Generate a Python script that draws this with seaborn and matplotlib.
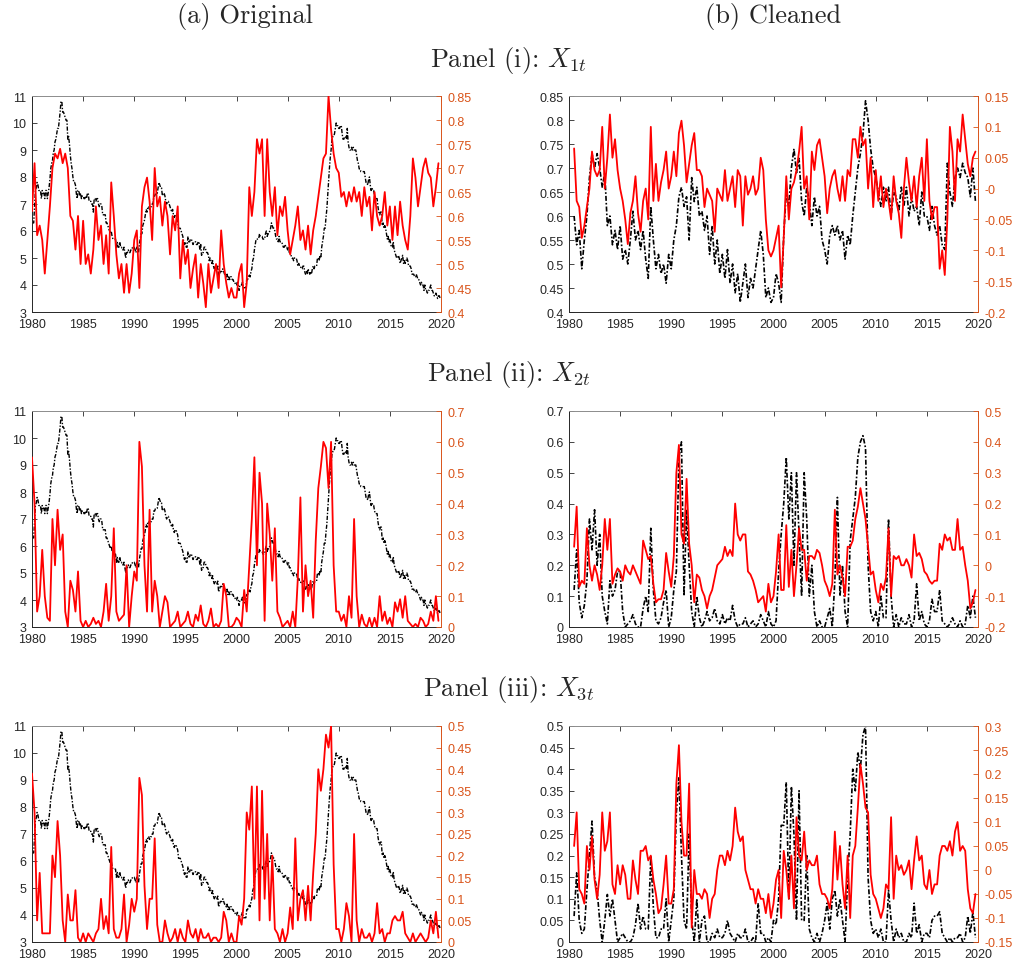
import numpy as np
import matplotlib
matplotlib.use('Agg')
import matplotlib.pyplot as plt
import seaborn as sns
from matplotlib.ticker import FuncFormatter

# unemployment rate, monthly 1980-2019 (black line, column a)
unrate = [
    6.3, 6.3, 6.3, 6.9, 7.5, 7.6, 7.8, 7.7, 7.5, 7.5, 7.5, 7.2,
    7.5, 7.4, 7.4, 7.2, 7.5, 7.5, 7.2, 7.4, 7.6, 7.9, 8.3, 8.5,
    8.6, 8.9, 9.0, 9.3, 9.4, 9.6, 9.8, 9.8, 10.1, 10.4, 10.8, 10.8,
    10.4, 10.4, 10.3, 10.2, 10.1, 10.1, 9.4, 9.5, 9.2, 8.8, 8.5, 8.3,
    8.0, 7.8, 7.8, 7.7, 7.4, 7.2, 7.5, 7.5, 7.3, 7.4, 7.2, 7.3,
    7.3, 7.2, 7.2, 7.3, 7.2, 7.4, 7.4, 7.1, 7.1, 7.1, 7.0, 7.0,
    6.7, 7.2, 7.2, 7.1, 7.2, 7.2, 7.0, 6.9, 7.0, 7.0, 6.9, 6.6,
    6.6, 6.6, 6.6, 6.3, 6.3, 6.2, 6.1, 6.0, 5.9, 6.0, 5.8, 5.7,
    5.7, 5.7, 5.7, 5.4, 5.6, 5.4, 5.4, 5.6, 5.4, 5.4, 5.3, 5.3,
    5.4, 5.2, 5.0, 5.2, 5.2, 5.3, 5.2, 5.2, 5.3, 5.3, 5.4, 5.4,
    5.4, 5.3, 5.2, 5.4, 5.4, 5.2, 5.5, 5.7, 5.9, 5.9, 6.2, 6.3,
    6.4, 6.6, 6.8, 6.7, 6.9, 6.9, 6.8, 6.9, 6.9, 7.0, 7.0, 7.3,
    7.3, 7.4, 7.4, 7.4, 7.6, 7.8, 7.7, 7.6, 7.6, 7.3, 7.4, 7.4,
    7.3, 7.1, 7.0, 7.1, 7.1, 7.0, 6.9, 6.8, 6.7, 6.8, 6.6, 6.5,
    6.6, 6.6, 6.5, 6.4, 6.1, 6.1, 6.1, 6.0, 5.9, 5.8, 5.6, 5.5,
    5.6, 5.4, 5.4, 5.8, 5.6, 5.6, 5.7, 5.7, 5.6, 5.5, 5.6, 5.6,
    5.6, 5.5, 5.5, 5.6, 5.6, 5.3, 5.5, 5.1, 5.2, 5.2, 5.4, 5.4,
    5.3, 5.2, 5.2, 5.1, 4.9, 5.0, 4.9, 4.8, 4.9, 4.7, 4.6, 4.7,
    4.6, 4.6, 4.7, 4.3, 4.4, 4.5, 4.5, 4.5, 4.6, 4.5, 4.4, 4.4,
    4.3, 4.4, 4.2, 4.3, 4.2, 4.3, 4.3, 4.2, 4.2, 4.1, 4.1, 4.0,
    4.0, 4.1, 4.0, 3.8, 4.0, 4.0, 4.0, 4.1, 3.9, 3.9, 3.9, 3.9,
    4.2, 4.2, 4.3, 4.4, 4.3, 4.5, 4.6, 4.9, 5.0, 5.3, 5.5, 5.7,
    5.7, 5.7, 5.7, 5.9, 5.8, 5.8, 5.8, 5.7, 5.7, 5.7, 5.9, 6.0,
    5.8, 5.9, 5.9, 6.0, 6.1, 6.3, 6.2, 6.1, 6.1, 6.0, 5.8, 5.7,
    5.7, 5.6, 5.8, 5.6, 5.6, 5.6, 5.5, 5.4, 5.4, 5.5, 5.4, 5.4,
    5.3, 5.4, 5.2, 5.2, 5.1, 5.0, 5.0, 4.9, 5.0, 5.0, 5.0, 4.9,
    4.7, 4.8, 4.7, 4.7, 4.6, 4.6, 4.7, 4.7, 4.5, 4.4, 4.5, 4.4,
    4.6, 4.5, 4.4, 4.5, 4.4, 4.6, 4.7, 4.6, 4.7, 4.7, 4.7, 5.0,
    5.0, 4.9, 5.1, 5.0, 5.4, 5.6, 5.8, 6.1, 6.1, 6.5, 6.8, 7.3,
    7.8, 8.3, 8.7, 9.0, 9.4, 9.5, 9.5, 9.6, 9.8, 10.0, 9.9, 9.9,
    9.8, 9.8, 9.9, 9.9, 9.6, 9.4, 9.4, 9.5, 9.5, 9.4, 9.8, 9.3,
    9.1, 9.0, 9.0, 9.1, 9.0, 9.1, 9.0, 9.0, 9.0, 8.8, 8.6, 8.5,
    8.3, 8.3, 8.2, 8.2, 8.2, 8.2, 8.2, 8.0, 7.8, 7.8, 7.7, 7.9,
    8.0, 7.7, 7.5, 7.6, 7.5, 7.5, 7.3, 7.2, 7.2, 7.2, 6.9, 6.7,
    6.6, 6.7, 6.7, 6.2, 6.3, 6.1, 6.2, 6.1, 5.9, 5.7, 5.8, 5.6,
    5.7, 5.5, 5.4, 5.4, 5.6, 5.3, 5.2, 5.1, 5.0, 5.0, 5.1, 5.0,
    4.8, 4.9, 5.0, 5.1, 4.8, 4.9, 4.8, 4.9, 5.0, 4.9, 4.7, 4.7,
    4.7, 4.6, 4.4, 4.4, 4.4, 4.3, 4.3, 4.4, 4.3, 4.2, 4.2, 4.1,
    4.0, 4.1, 4.0, 4.0, 3.8, 4.0, 3.8, 3.8, 3.7, 3.8, 3.8, 3.9,
    4.0, 3.8, 3.8, 3.7, 3.6, 3.6, 3.7, 3.6, 3.5, 3.6, 3.6, 3.5,
]

# quarterly series, column (a), 1980Q1-2019Q4
orig_x1 = [
    0.61, 0.71, 0.56, 0.58, 0.55, 0.48, 0.55, 0.62, 0.70, 0.73, 0.72, 0.74,
    0.71, 0.73, 0.70, 0.60, 0.59, 0.53, 0.60, 0.50, 0.59, 0.50, 0.52, 0.48,
    0.53, 0.62, 0.55, 0.58, 0.50, 0.56, 0.48, 0.67, 0.60, 0.52, 0.47, 0.50,
    0.44, 0.50, 0.44, 0.48, 0.55, 0.57, 0.45, 0.62, 0.66, 0.68, 0.63, 0.55,
    0.70, 0.62, 0.64, 0.58, 0.63, 0.60, 0.52, 0.60, 0.57, 0.62, 0.47, 0.55,
    0.50, 0.53, 0.45, 0.49, 0.52, 0.43, 0.50, 0.46, 0.41, 0.50, 0.44, 0.47,
    0.50, 0.45, 0.57, 0.50, 0.46, 0.43, 0.45, 0.43, 0.43, 0.48, 0.50, 0.41,
    0.46, 0.66, 0.60, 0.65, 0.76, 0.73, 0.76, 0.60, 0.76, 0.65, 0.60, 0.66,
    0.56, 0.62, 0.60, 0.64, 0.57, 0.52, 0.55, 0.58, 0.62, 0.55, 0.57, 0.53,
    0.58, 0.52, 0.57, 0.60, 0.64, 0.68, 0.72, 0.73, 0.85, 0.78, 0.73, 0.70,
    0.69, 0.64, 0.65, 0.62, 0.65, 0.63, 0.66, 0.63, 0.65, 0.60, 0.66, 0.62,
    0.64, 0.57, 0.65, 0.60, 0.58, 0.60, 0.65, 0.58, 0.62, 0.55, 0.62, 0.56,
    0.63, 0.58, 0.55, 0.53, 0.60, 0.72, 0.68, 0.62, 0.66, 0.70, 0.72, 0.69,
    0.68, 0.62, 0.66, 0.71,
]
orig_x2 = [
    0.55, 0.40, 0.05, 0.10, 0.25, 0.10, 0.03, 0.02, 0.35, 0.20, 0.38, 0.25,
    0.30, 0.05, 0.00, 0.15, 0.12, 0.05, 0.18, 0.02, 0.00, 0.02, 0.00, 0.01,
    0.03, 0.01, 0.02, 0.00, 0.05, 0.14, 0.02, 0.10, 0.32, 0.05, 0.02, 0.03,
    0.04, 0.20, 0.00, 0.10, 0.18, 0.15, 0.60, 0.52, 0.20, 0.05, 0.38, 0.05,
    0.15, 0.10, 0.00, 0.05, 0.10, 0.08, 0.00, 0.01, 0.02, 0.05, 0.00, 0.01,
    0.02, 0.05, 0.01, 0.00, 0.04, 0.02, 0.07, 0.01, 0.00, 0.02, 0.06, 0.00,
    0.01, 0.00, 0.02, 0.14, 0.10, 0.00, 0.00, 0.01, 0.03, 0.02, 0.00, 0.12,
    0.05, 0.20, 0.35, 0.55, 0.20, 0.50, 0.40, 0.02, 0.40, 0.30, 0.15, 0.32,
    0.05, 0.03, 0.00, 0.01, 0.02, 0.00, 0.05, 0.00, 0.16, 0.42, 0.05, 0.20,
    0.10, 0.15, 0.03, 0.28, 0.45, 0.52, 0.60, 0.58, 0.45, 0.60, 0.20, 0.05,
    0.05, 0.02, 0.04, 0.00, 0.10, 0.03, 0.35, 0.10, 0.00, 0.04, 0.01, 0.00,
    0.03, 0.00, 0.03, 0.00, 0.10, 0.02, 0.05, 0.01, 0.03, 0.00, 0.08, 0.05,
    0.09, 0.03, 0.10, 0.02, 0.01, 0.00, 0.01, 0.00, 0.03, 0.02, 0.00, 0.01,
    0.05, 0.02, 0.10, 0.02,
]
orig_x3 = [
    0.39, 0.30, 0.05, 0.16, 0.02, 0.02, 0.02, 0.02, 0.20, 0.15, 0.28, 0.20,
    0.05, 0.00, 0.11, 0.05, 0.05, 0.12, 0.01, 0.00, 0.02, 0.00, 0.02, 0.01,
    0.00, 0.02, 0.03, 0.10, 0.03, 0.06, 0.02, 0.22, 0.03, 0.01, 0.01, 0.03,
    0.11, 0.00, 0.04, 0.10, 0.07, 0.10, 0.38, 0.34, 0.13, 0.03, 0.10, 0.10,
    0.24, 0.04, 0.00, 0.00, 0.05, 0.02, 0.00, 0.01, 0.03, 0.00, 0.03, 0.01,
    0.00, 0.05, 0.02, 0.01, 0.03, 0.00, 0.03, 0.01, 0.01, 0.02, 0.00, 0.01,
    0.01, 0.00, 0.01, 0.07, 0.05, 0.00, 0.02, 0.00, 0.00, 0.06, 0.04, 0.10,
    0.30, 0.26, 0.36, 0.10, 0.36, 0.05, 0.35, 0.10, 0.25, 0.05, 0.20, 0.03,
    0.02, 0.00, 0.03, 0.00, 0.02, 0.08, 0.03, 0.24, 0.05, 0.10, 0.12, 0.05,
    0.13, 0.05, 0.16, 0.25, 0.40, 0.35, 0.40, 0.48, 0.45, 0.50, 0.18, 0.03,
    0.03, 0.00, 0.03, 0.09, 0.06, 0.00, 0.25, 0.05, 0.00, 0.03, 0.01, 0.01,
    0.02, 0.00, 0.02, 0.09, 0.02, 0.03, 0.00, 0.02, 0.02, 0.05, 0.06, 0.05,
    0.05, 0.07, 0.02, 0.01, 0.00, 0.02, 0.00, 0.01, 0.02, 0.01, 0.00, 0.01,
    0.05, 0.02, 0.07, 0.01,
]

# quarterly series, column (b), 1980Q3-2019Q4
clean_y = [
    0.60, 0.54,
    0.57, 0.49, 0.55, 0.60, 0.68, 0.73, 0.70, 0.73, 0.70, 0.66, 0.69, 0.58,
    0.60, 0.54, 0.57, 0.53, 0.58, 0.51, 0.53, 0.50, 0.55, 0.61, 0.55, 0.57,
    0.53, 0.57, 0.51, 0.47, 0.62, 0.55, 0.49, 0.52, 0.48, 0.50, 0.46, 0.52,
    0.49, 0.55, 0.58, 0.64, 0.66, 0.62, 0.64, 0.55, 0.68, 0.63, 0.66, 0.60,
    0.61, 0.57, 0.60, 0.52, 0.58, 0.50, 0.55, 0.48, 0.52, 0.47, 0.53, 0.46,
    0.50, 0.44, 0.48, 0.42, 0.46, 0.50, 0.43, 0.47, 0.45, 0.49, 0.53, 0.57,
    0.52, 0.43, 0.45, 0.42, 0.43, 0.48, 0.46, 0.42, 0.56, 0.65, 0.62, 0.70,
    0.74, 0.69, 0.72, 0.63, 0.60, 0.66, 0.63, 0.58, 0.64, 0.60, 0.62, 0.55,
    0.53, 0.50, 0.56, 0.58, 0.56, 0.58, 0.55, 0.57, 0.51, 0.56, 0.54, 0.60,
    0.65, 0.70, 0.73, 0.77, 0.84, 0.80, 0.74, 0.70, 0.68, 0.65, 0.62, 0.66,
    0.63, 0.66, 0.60, 0.65, 0.64, 0.61, 0.66, 0.62, 0.66, 0.60, 0.64, 0.61,
    0.62, 0.58, 0.65, 0.60, 0.60, 0.57, 0.62, 0.58, 0.56, 0.58, 0.54, 0.53,
    0.71, 0.65, 0.62, 0.68, 0.70, 0.68, 0.71, 0.69, 0.68, 0.64, 0.70, 0.63,
]
clean_x1 = [
    0.065, -0.02,
    -0.03, -0.08, -0.06, -0.03, 0.00, 0.06, 0.03, 0.02, 0.03, 0.10, 0.00, 0.05,
    0.12, 0.05, 0.08, 0.03, 0.00, -0.02, -0.05, -0.09, -0.04, -0.02, 0.02, -0.04,
    -0.07, -0.02, 0.00, -0.05, 0.10, -0.02, 0.04, -0.02, 0.01, 0.03, 0.06, 0.00,
    0.02, 0.06, 0.02, 0.09, 0.11, 0.07, 0.01, 0.04, 0.07, 0.09, 0.03, 0.03,
    0.02, -0.03, 0.00, -0.01, -0.02, -0.07, 0.00, -0.01, -0.02, 0.03, -0.02, 0.00,
    0.02, -0.03, 0.03, 0.02, -0.06, 0.02, -0.01, 0.00, 0.02, -0.01, 0.00, 0.05,
    0.03, -0.05, -0.10, -0.11, -0.10, -0.08, -0.06, -0.16, -0.08, 0.02, -0.05, 0.00,
    0.01, 0.03, 0.06, 0.10, 0.00, 0.02, -0.05, 0.06, 0.03, 0.07, 0.08, 0.05,
    0.02, -0.04, 0.00, 0.02, 0.03, 0.00, -0.02, 0.02, -0.02, 0.03, 0.02, 0.08,
    0.08, 0.05, 0.10, 0.07, 0.08, 0.00, 0.05, -0.03, 0.03, -0.02, 0.02, -0.03,
    0.00, -0.02, -0.05, 0.02, -0.02, -0.04, -0.08, 0.00, 0.05, 0.01, -0.02, 0.02,
    -0.03, 0.02, 0.05, -0.02, 0.08, -0.02, -0.05, -0.03, -0.03, -0.13, -0.10, -0.14,
    -0.05, 0.10, 0.06, -0.02, 0.08, 0.06, 0.12, 0.08, 0.04, 0.02, 0.05, 0.06,
]
clean_y2 = [
    0.12, 0.25,
    0.08, 0.03, 0.07, 0.15, 0.35, 0.25, 0.38, 0.20, 0.30, 0.10, 0.05, 0.01,
    0.15, 0.10, 0.12, 0.18, 0.18, 0.05, 0.00, 0.01, 0.02, 0.04, 0.01, 0.00,
    0.00, 0.06, 0.10, 0.05, 0.32, 0.12, 0.02, 0.01, 0.03, 0.08, 0.12, 0.00,
    0.03, 0.12, 0.18, 0.55, 0.60, 0.10, 0.38, 0.20, 0.05, 0.00, 0.10, 0.03,
    0.00, 0.02, 0.05, 0.02, 0.03, 0.06, 0.02, 0.01, 0.04, 0.01, 0.03, 0.02,
    0.07, 0.02, 0.00, 0.01, 0.01, 0.03, 0.00, 0.01, 0.02, 0.00, 0.01, 0.04,
    0.02, 0.00, 0.05, 0.01, 0.00, 0.02, 0.18, 0.30, 0.40, 0.55, 0.35, 0.50,
    0.20, 0.50, 0.30, 0.10, 0.50, 0.35, 0.10, 0.20, 0.05, 0.00, 0.02, 0.00,
    0.00, 0.03, 0.06, 0.00, 0.15, 0.42, 0.10, 0.20, 0.05, 0.00, 0.28, 0.35,
    0.42, 0.55, 0.60, 0.62, 0.58, 0.20, 0.05, 0.02, 0.05, 0.00, 0.10, 0.03,
    0.03, 0.35, 0.10, 0.00, 0.04, 0.00, 0.03, 0.01, 0.01, 0.04, 0.00, 0.02,
    0.14, 0.02, 0.05, 0.01, 0.00, 0.02, 0.09, 0.05, 0.05, 0.12, 0.02, 0.01,
    0.00, 0.01, 0.03, 0.01, 0.00, 0.02, 0.00, 0.01, 0.07, 0.03, 0.10, 0.03,
]
clean_x2 = [
    0.06, 0.19,
    -0.07, -0.05, -0.06, 0.12, 0.00, -0.05, 0.00, -0.03, -0.08, 0.00, 0.15, 0.05,
    0.15, -0.06, -0.03, -0.01, -0.02, -0.05, 0.00, -0.02, -0.03, 0.00, -0.02, -0.04,
    -0.06, 0.08, 0.05, 0.02, 0.03, -0.06, -0.12, -0.11, -0.11, -0.08, 0.04, -0.02,
    -0.07, 0.03, 0.30, 0.39, 0.10, 0.07, 0.28, 0.07, 0.00, -0.12, -0.03, -0.04,
    -0.08, -0.10, -0.14, -0.10, -0.08, -0.04, 0.00, 0.01, 0.02, 0.06, 0.03, 0.05,
    0.03, 0.20, 0.10, 0.08, 0.10, 0.10, -0.02, -0.03, -0.05, -0.08, -0.12, -0.11,
    -0.10, -0.15, -0.06, -0.12, -0.10, -0.02, 0.10, -0.08, -0.08, 0.13, -0.07, 0.05,
    -0.10, 0.00, 0.12, 0.05, 0.05, -0.05, 0.03, 0.03, 0.02, 0.05, 0.04, 0.00,
    -0.05, -0.07, -0.10, -0.06, 0.18, -0.03, 0.00, -0.04, -0.10, 0.06, 0.06, 0.08,
    0.15, 0.19, 0.25, 0.20, 0.15, 0.06, -0.03, -0.02, -0.08, -0.12, -0.06, -0.08,
    -0.04, 0.12, -0.10, 0.03, 0.02, 0.03, 0.00, 0.00, 0.02, 0.00, -0.04, 0.10,
    0.03, 0.04, 0.02, -0.02, -0.03, -0.05, -0.06, -0.05, -0.05, 0.07, 0.05, 0.10,
    0.08, 0.09, 0.05, 0.05, 0.15, 0.05, 0.06, 0.00, -0.05, -0.14, -0.12, -0.08,
]
clean_y3 = [
    0.06, 0.16,
    0.05, 0.02, 0.03, 0.12, 0.20, 0.28, 0.15, 0.12, 0.05, 0.00, 0.05, 0.11,
    0.06, 0.10, 0.05, 0.00, 0.01, 0.02, 0.01, 0.00, 0.00, 0.01, 0.04, 0.09,
    0.03, 0.06, 0.03, 0.03, 0.20, 0.08, 0.01, 0.01, 0.03, 0.03, 0.10, 0.00,
    0.05, 0.10, 0.30, 0.38, 0.20, 0.05, 0.03, 0.25, 0.05, 0.00, 0.10, 0.00,
    0.05, 0.06, 0.00, 0.00, 0.02, 0.01, 0.03, 0.01, 0.01, 0.02, 0.05, 0.02,
    0.01, 0.00, 0.02, 0.01, 0.01, 0.03, 0.00, 0.00, 0.01, 0.00, 0.09, 0.02,
    0.02, 0.00, 0.01, 0.00, 0.05, 0.04, 0.10, 0.27, 0.27, 0.37, 0.10, 0.36,
    0.25, 0.05, 0.35, 0.05, 0.05, 0.20, 0.03, 0.01, 0.00, 0.02, 0.00, 0.02,
    0.05, 0.09, 0.03, 0.10, 0.12, 0.06, 0.10, 0.05, 0.00, 0.15, 0.25, 0.40,
    0.35, 0.44, 0.40, 0.48, 0.50, 0.15, 0.05, 0.02, 0.03, 0.01, 0.03, 0.00,
    0.00, 0.12, 0.05, 0.00, 0.03, 0.01, 0.02, 0.00, 0.00, 0.02, 0.01, 0.09,
    0.02, 0.04, 0.00, 0.02, 0.02, 0.01, 0.05, 0.06, 0.06, 0.07, 0.02, 0.01,
    0.00, 0.01, 0.00, 0.01, 0.01, 0.02, 0.00, 0.01, 0.06, 0.02, 0.07, 0.01,
]
clean_x3 = [
    0.05, 0.12,
    -0.04, -0.05, -0.07, 0.05, 0.00, 0.07, -0.02, -0.06, -0.01, 0.12, 0.04, 0.06,
    0.12, -0.03, -0.05, 0.01, -0.03, 0.01, -0.01, -0.06, -0.06, 0.02, -0.02, -0.05,
    0.04, 0.04, 0.05, 0.02, 0.03, -0.02, -0.05, -0.09, -0.08, -0.03, 0.03, -0.07,
    -0.07, -0.04, 0.18, 0.26, 0.10, 0.03, 0.03, 0.18, -0.12, 0.00, -0.05, -0.05,
    -0.06, -0.04, -0.05, -0.10, -0.06, -0.05, 0.00, 0.03, 0.03, 0.01, 0.04, 0.02,
    0.05, 0.13, 0.08, 0.06, 0.07, 0.00, -0.02, -0.04, -0.04, -0.07, -0.04, -0.06,
    -0.06, -0.09, -0.05, -0.10, -0.07, -0.02, 0.00, -0.10, 0.04, 0.00, -0.06, 0.03,
    -0.08, 0.11, 0.03, 0.02, 0.08, 0.00, 0.02, 0.01, 0.01, 0.03, -0.03, -0.05,
    -0.05, -0.06, -0.08, -0.04, 0.08, -0.02, 0.05, -0.03, -0.08, 0.03, -0.10, 0.03,
    0.05, 0.13, 0.22, 0.18, 0.13, 0.12, -0.01, -0.05, -0.06, -0.08, -0.10, -0.08,
    -0.03, -0.04, 0.11, -0.06, 0.03, 0.00, 0.01, -0.01, 0.00, 0.02, -0.04, 0.02,
    0.07, 0.02, 0.03, -0.03, -0.04, 0.00, -0.05, -0.03, -0.03, 0.03, 0.05, 0.05,
    0.04, 0.06, 0.03, 0.08, 0.10, 0.04, 0.05, 0.04, -0.04, -0.08, -0.09, -0.05,
]

sns.set_style('white')
plt.rcParams['font.family'] = ['Liberation Sans', 'DejaVu Sans']
plt.rcParams['mathtext.fontset'] = 'cm'

ORANGE = '#D95319'
DARK = '#262626'
DASHDOT = (0, (3, 1.2, 1, 1.2))

t_month = 1980 + np.arange(len(unrate)) / 12
t_a = 1980 + 0.25 * np.arange(len(orig_x1))
t_b = 1980.5 + 0.25 * np.arange(len(clean_y))

fmt = FuncFormatter(lambda v, _: f"{round(v, 4):g}")


def ticks(lo, hi, step):
    return np.round(np.arange(lo, hi + step / 2, step), 4)


def panel(rect, bx, by, rx, ry, lt, rt, black_lw):
    ax = fig.add_axes(rect)
    sns.lineplot(x=bx, y=by, ax=ax, color='black', linewidth=black_lw,
                 linestyle=DASHDOT, estimator=None, sort=False)
    ax.set_xlim(1980, 2020)
    ax.set_ylim(lt[0], lt[-1])
    ax.set_xticks(range(1980, 2021, 5))
    ax.set_yticks(lt)
    ax.yaxis.set_major_formatter(fmt)
    ax.tick_params(direction='in', length=3.5, width=0.6, labelsize=9,
                   colors=DARK, top=True)
    ax.tick_params(axis='x', pad=4.5)
    ax.tick_params(axis='y', pad=4)
    for s in ['left', 'bottom']:
        ax.spines[s].set_color(DARK)
        ax.spines[s].set_linewidth(0.7)
    ax.spines['top'].set_color('#8c8c8c')
    ax.spines['top'].set_linewidth(0.7)
    ax.spines['right'].set_visible(False)

    ax2 = ax.twinx()
    sns.lineplot(x=rx, y=ry, ax=ax2, color='#ff0000', linewidth=1.3,
                 estimator=None, sort=False)
    ax2.set_xlim(1980, 2020)
    ax2.set_ylim(rt[0], rt[-1])
    ax2.set_yticks(rt)
    ax2.yaxis.set_major_formatter(fmt)
    ax2.tick_params(axis='y', direction='in', length=3.5, width=0.6,
                    labelsize=9, colors=ORANGE, pad=5)
    for s in ['left', 'bottom', 'top']:
        ax2.spines[s].set_visible(False)
    ax2.spines['right'].set_color(ORANGE)
    ax2.spines['right'].set_linewidth(0.7)
    for a in (ax, ax2):
        a.set_xlabel('')
        a.set_ylabel('')


fig = plt.figure(figsize=(10.17, 9.62), dpi=100)

W, H = 1017, 962
lx, rx0, aw = 32 / W, 569 / W, 409 / W
ah = 216 / H
rows = [1 - 313 / H, 1 - 628 / H, 1 - 943 / H]

left_ticks = ticks(3, 11, 1)
panel([lx, rows[0], aw, ah], t_month, unrate, t_a, orig_x1,
      left_ticks, ticks(0.4, 0.85, 0.05), 1.0)
panel([rx0, rows[0], aw, ah], t_b, clean_y, t_b, clean_x1,
      ticks(0.4, 0.85, 0.05), ticks(-0.2, 0.15, 0.05), 1.2)
panel([lx, rows[1], aw, ah], t_month, unrate, t_a, orig_x2,
      left_ticks, ticks(0, 0.7, 0.1), 1.0)
panel([rx0, rows[1], aw, ah], t_b, clean_y2, t_b, clean_x2,
      ticks(0, 0.7, 0.1), ticks(-0.2, 0.5, 0.1), 1.2)
panel([lx, rows[2], aw, ah], t_month, unrate, t_a, orig_x3,
      left_ticks, ticks(0, 0.5, 0.05), 1.0)
panel([rx0, rows[2], aw, ah], t_b, clean_y3, t_b, clean_x3,
      ticks(0, 0.5, 0.05), ticks(-0.15, 0.3, 0.05), 1.2)

title_font = dict(family='cmr10', fontsize=19, ha='center', va='center')
fig.text(245 / W, 1 - 17 / H, '(a) Original', **title_font)
fig.text(773 / W, 1 - 17 / H, '(b) Cleaned', **title_font)
panel_titles = ['Panel (i): $X_{1t}$', 'Panel (ii): $X_{2t}$',
                'Panel (iii): $X_{3t}$']
for i, txt in enumerate(panel_titles):
    fig.text(0.5, 1 - (60 + 315 * i) / H, txt, **title_font)

fig.savefig('out.png', dpi=100)
